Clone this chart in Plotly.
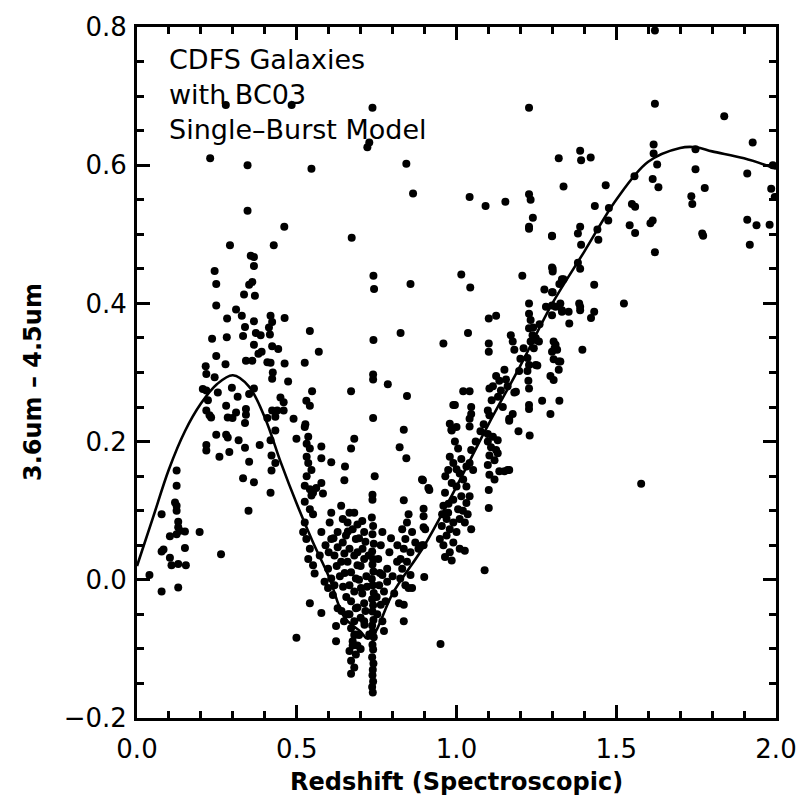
import plotly.graph_objects as go

# ---- model curve (BC03 single-burst) ----
model_z = [0.0, 0.05, 0.1, 0.15, 0.2, 0.25, 0.3, 0.35, 0.4, 0.45, 0.5, 0.55, 0.6, 0.65,
           0.7, 0.72, 0.74, 0.8, 0.9, 1.0, 1.1, 1.2, 1.3, 1.4, 1.5, 1.6, 1.7, 1.75, 1.8, 1.9, 2.0]
model_c = [0.02, 0.09, 0.16, 0.215, 0.255, 0.283, 0.296, 0.28, 0.235, 0.17, 0.11, 0.055, 0.005, -0.055,
           -0.075, -0.085, -0.08, -0.02, 0.05, 0.135, 0.225, 0.31, 0.40, 0.475, 0.55, 0.605, 0.625, 0.626, 0.62, 0.61, 0.595]

# ---- galaxies, z < 0.5 ----
z_low = [0.229, 0.346, 0.346, 0.461, 0.291, 0.428, 0.356, 0.366, 0.366, 0.243, 0.248, 0.351, 0.361, 0.335, 0.369,
         0.248, 0.310, 0.328, 0.282, 0.366, 0.418, 0.462, 0.423, 0.338, 0.413, 0.372, 0.387, 0.332, 0.281, 0.235,
         0.416, 0.366, 0.423, 0.442, 0.380, 0.390, 0.248, 0.341, 0.361, 0.408, 0.418, 0.462, 0.277, 0.215, 0.217,
         0.243, 0.425, 0.423, 0.473, 0.206, 0.217, 0.297, 0.253, 0.366, 0.351, 0.315, 0.222, 0.279, 0.449, 0.459,
         0.217, 0.227, 0.284, 0.299, 0.310, 0.341, 0.341, 0.423, 0.439, 0.459, 0.490,
         0.232, 0.338, 0.408, 0.433, 0.248, 0.279, 0.284, 0.217, 0.217, 0.318, 0.338, 0.289, 0.258, 0.384, 0.433,
         0.418, 0.421, 0.433, 0.351, 0.421, 0.332, 0.366, 0.418, 0.349, 0.124, 0.124, 0.119, 0.124, 0.124, 0.077,
         0.129, 0.129, 0.134, 0.150, 0.124, 0.196, 0.103, 0.150, 0.083, 0.077, 0.103, 0.108, 0.129, 0.153, 0.263,
         0.039, 0.077, 0.129, 0.278, 0.484, 0.499]
c_low = [0.610, 0.600, 0.534, 0.511, 0.484, 0.484, 0.469, 0.467, 0.454, 0.447, 0.428, 0.427, 0.431, 0.413, 0.411,
         0.397, 0.391, 0.382, 0.378, 0.374, 0.382, 0.379, 0.373, 0.366, 0.365, 0.357, 0.354, 0.353, 0.351, 0.349,
         0.355, 0.340, 0.338, 0.334, 0.327, 0.330, 0.324, 0.317, 0.317, 0.315, 0.314, 0.313, 0.312, 0.309, 0.298,
         0.293, 0.300, 0.291, 0.287, 0.276, 0.274, 0.278, 0.271, 0.277, 0.269, 0.265, 0.260, 0.252, 0.264, 0.257,
         0.245, 0.238, 0.235, 0.234, 0.242, 0.247, 0.239, 0.245, 0.245, 0.245, 0.233,
         0.235, 0.227, 0.234, 0.236, 0.210, 0.210, 0.206, 0.195, 0.187, 0.202, 0.191, 0.185, 0.178, 0.195, 0.216,
         0.202, 0.180, 0.169, 0.171, 0.158, 0.147, 0.141, 0.126, 0.100, 0.158, 0.136, 0.112, 0.107, 0.100, 0.095,
         0.084, 0.076, 0.071, 0.070, 0.066, 0.069, 0.063, 0.046, 0.044, 0.041, 0.032, 0.021, 0.023, 0.021, 0.037,
         0.007, -0.017, -0.011, 0.687, 0.687, 0.204]

# ---- galaxies, 0.5 <= z < 0.95 ----
z_mid = [0.546, 0.843, 0.864, 0.737, 0.727, 0.721, 0.672, 0.856, 0.740, 0.742, 0.825, 0.740, 0.541, 0.569, 0.525,
         0.548, 0.530, 0.541, 0.670, 0.739, 0.739, 0.785, 0.845, 0.527, 0.739, 0.835,
         0.525, 0.536, 0.531, 0.541, 0.531, 0.536, 0.546, 0.531, 0.525, 0.541, 0.546, 0.525, 0.541, 0.551,
         0.577, 0.577, 0.608, 0.577, 0.582, 0.561, 0.551, 0.680, 0.670, 0.651, 0.649, 0.744, 0.737, 0.737,
         0.822, 0.843, 0.895, 0.915, 0.835,
         0.525, 0.520, 0.530, 0.541, 0.536, 0.551, 0.556, 0.572, 0.577, 0.587, 0.598, 0.608, 0.618, 0.613, 0.598,
         0.628, 0.623, 0.623, 0.577, 0.541, 0.499, 0.608, 0.639, 0.603,
         0.665, 0.680, 0.659, 0.675, 0.654, 0.685, 0.665, 0.680, 0.659, 0.690, 0.670, 0.685, 0.665, 0.680, 0.670,
         0.685, 0.665, 0.680, 0.670, 0.685, 0.675, 0.665, 0.685, 0.670, 0.680, 0.670,
         0.608, 0.628, 0.644, 0.618, 0.639, 0.649, 0.711, 0.706, 0.711, 0.644, 0.628, 0.711, 0.701,
         0.705, 0.715, 0.700, 0.718, 0.705, 0.715, 0.700, 0.712, 0.695, 0.690, 0.700, 0.727, 0.711,
         0.735, 0.739, 0.737, 0.741, 0.736, 0.739, 0.737, 0.740, 0.735, 0.738, 0.741, 0.736, 0.739, 0.737, 0.740,
         0.736, 0.738, 0.741, 0.737, 0.739, 0.736, 0.740, 0.738, 0.737, 0.739, 0.736, 0.738,
         0.768, 0.763, 0.783, 0.768, 0.758, 0.783, 0.773, 0.763, 0.778, 0.768, 0.752, 0.773,
         0.814, 0.830, 0.845, 0.824, 0.840, 0.856, 0.861, 0.820, 0.835, 0.835, 0.850,
         0.830, 0.845, 0.861, 0.840, 0.871, 0.835, 0.856, 0.881, 0.897, 0.902, 0.897, 0.897, 0.899, 0.850,
         0.950, 0.897, 0.912, 0.892, 0.892,
         0.590, 0.600, 0.615, 0.625, 0.635, 0.645, 0.655, 0.650, 0.660, 0.690, 0.695, 0.690, 0.695, 0.690, 0.680,
         0.675, 0.660, 0.648, 0.640, 0.720, 0.725, 0.755, 0.760, 0.750, 0.790, 0.800, 0.805, 0.795, 0.815, 0.825]
c_mid = [0.595, 0.602, 0.559, 0.683, 0.633, 0.626, 0.495, 0.428, 0.440, 0.421, 0.357, 0.347, 0.360, 0.330, 0.314,
         0.273, 0.259, 0.252, 0.273, 0.297, 0.290, 0.283, 0.266, 0.225, 0.234, 0.217,
         0.221, 0.207, 0.197, 0.190, 0.178, 0.169, 0.159, 0.150, 0.136, 0.131, 0.122, 0.113, 0.102, 0.095,
         0.193, 0.176, 0.170, 0.140, 0.125, 0.133, 0.126, 0.204, 0.190, 0.164, 0.144, 0.150, 0.123, 0.116,
         0.192, 0.176, 0.144, 0.130, 0.115,
         0.083, 0.069, 0.059, 0.045, 0.030, 0.021, 0.009, 0.035, 0.069, -0.003, -0.012, 0.002, -0.008, -0.022, 0.016,
         -0.041, -0.067, -0.089, -0.048, -0.034, -0.084, 0.097, 0.107, 0.083,
         0.097, 0.097, 0.083, 0.073, 0.064, 0.059, 0.045, 0.035, 0.026, 0.021, 0.011, 0.002, -0.008, -0.017, -0.031,
         -0.041, -0.050, -0.060, -0.070, -0.079, -0.089, -0.103, -0.108, -0.117, -0.127, -0.136,
         0.059, 0.047, 0.054, 0.035, 0.026, 0.038, 0.069, 0.045, 0.030, 0.088, 0.069, -0.034, -0.012,
         0.085, 0.055, 0.020, 0.005, -0.020, -0.045, -0.055, -0.065, -0.080, -0.095, -0.100, -0.079, -0.060,
         0.090, 0.078, 0.066, 0.052, 0.041, 0.030, 0.022, 0.012, 0.001, -0.008, -0.019, -0.028, -0.037, -0.046, -0.058,
         -0.066, -0.075, -0.083, -0.094, -0.101, -0.112, -0.121, -0.130, -0.138, -0.147, -0.155, -0.163,
         0.069, 0.050, 0.016, 0.007, -0.008, -0.003, -0.017, -0.036, -0.031, -0.060, -0.050, -0.074,
         0.026, 0.016, 0.026, 0.002, -0.008, 0.007, -0.012, -0.034, -0.036, -0.060, -0.012,
         0.073, 0.083, 0.069, 0.059, 0.054, 0.045, 0.040, 0.045, 0.050, 0.073, 0.092, 0.103, 0.004, 0.095,
         -0.093, 0.076, 0.133, 0.145, 0.050,
         0.050, 0.040, 0.060, 0.020, 0.005, -0.010, -0.025, 0.010, 0.070, 0.080, 0.060, 0.040, 0.000, -0.040, -0.080,
         -0.095, -0.050, -0.060, -0.045, -0.010, 0.035, 0.030, 0.010, -0.025, 0.040, 0.005, -0.020, 0.060, 0.050, 0.030]

# ---- galaxies, 0.95 <= z < 1.36 ----
z_high = [0.959, 0.990, 0.979, 0.984,
          1.299, 1.301, 1.330, 1.015, 1.043, 1.206, 1.299, 1.310, 1.299, 1.330, 1.227, 1.227, 1.232, 1.227, 1.238,
          1.232, 1.248, 1.258, 1.242, 1.101, 1.124, 1.036, 1.170, 1.176, 1.181, 1.101, 1.101, 1.304, 1.307, 1.299,
          1.304, 1.325, 1.227, 1.253, 1.196, 1.222, 1.294, 1.304, 1.150, 1.124, 1.134, 1.155, 1.114, 1.103, 1.139,
          1.186, 1.225, 1.227, 1.021, 1.041, 1.268, 1.322, 1.227, 1.227, 1.294, 0.995, 1.046, 1.046, 1.041, 1.041,
          1.098, 1.103, 1.176, 1.165, 0.985, 1.000, 1.194, 1.229,
          1.098, 1.114, 1.129, 1.098, 1.108, 1.124, 1.129, 1.103, 1.119, 1.098, 1.134, 1.150, 1.165, 1.119, 1.103,
          1.101, 1.101, 1.046, 1.041, 1.031, 1.052,
          0.979, 0.990, 0.974, 1.010, 1.021, 1.000, 1.031, 1.015, 1.041, 1.031, 0.990, 1.005, 0.964, 0.959, 0.974,
          0.969, 0.990, 0.954, 0.979, 1.000, 0.969, 0.948, 0.990, 1.010, 0.979, 0.964, 0.985, 0.959, 1.010, 1.026,
          1.046, 1.026, 1.088,
          1.160, 1.181, 1.165,
          1.227, 1.041, 1.091, 1.153, 1.227, 1.232, 1.239, 1.227, 1.227, 1.299, 1.330, 1.351, 1.353, 1.310, 1.315,
          1.320, 1.248, 1.248, 1.222, 1.320,
          0.965, 0.985, 1.000, 1.015, 1.005, 0.995, 1.020, 1.035, 0.975, 0.955, 1.060, 1.075, 1.085, 1.110, 1.130,
          1.145, 1.160, 1.200, 1.210, 1.240, 1.260, 1.280, 1.275]
c_high = [0.342, 0.253, 0.226, 0.217,
          0.497, 0.450, 0.435, 0.442, 0.423, 0.440, 0.416, 0.395, 0.383, 0.388, 0.400, 0.385, 0.376, 0.364, 0.354,
          0.345, 0.350, 0.345, 0.335, 0.378, 0.382, 0.357, 0.354, 0.345, 0.333, 0.342, 0.330, 0.345, 0.335, 0.330,
          0.319, 0.316, 0.311, 0.310, 0.302, 0.302, 0.295, 0.289, 0.304, 0.295, 0.288, 0.290, 0.280, 0.277, 0.274,
          0.272, 0.288, 0.277, 0.273, 0.273, 0.259, 0.259, 0.253, 0.247, 0.240, 0.253, 0.250, 0.240, 0.233, 0.222,
          0.245, 0.238, 0.240, 0.230, 0.216, 0.221, 0.215, 0.209,
          0.211, 0.207, 0.202, 0.200, 0.192, 0.188, 0.183, 0.180, 0.173, 0.166, 0.157, 0.157, 0.159, 0.145, 0.152,
          0.130, 0.104, 0.188, 0.169, 0.164, 0.159,
          0.178, 0.169, 0.159, 0.154, 0.145, 0.135, 0.135, 0.121, 0.121, 0.111, 0.116, 0.102, 0.126, 0.107, 0.097,
          0.088, 0.083, 0.078, 0.073, 0.069, 0.064, 0.059, 0.054, 0.045, 0.040, 0.033, 0.028, 0.050, 0.088, 0.083,
          0.073, 0.042, 0.014,
          0.159, 0.271, 0.233,
          0.683, 0.554, 0.541, 0.547, 0.558, 0.550, 0.524, 0.511, 0.508, 0.397, 0.390, 0.388, 0.371, 0.340, 0.333,
          0.316, 0.347, 0.311, 0.321, 0.304,
          0.150, 0.140, 0.160, 0.175, 0.190, 0.200, 0.100, 0.095, 0.110, 0.095, 0.200, 0.215, 0.225, 0.260, 0.265,
          0.250, 0.280, 0.320, 0.335, 0.365, 0.370, 0.395, 0.420]

# ---- galaxies, z >= 1.36 ----
z_far = [1.621, 1.621, 1.838, 1.927, 1.617, 1.617, 1.320, 1.387, 1.390, 1.420, 1.628, 1.748, 1.748, 1.614, 1.632,
         1.557, 1.335, 1.467, 1.910, 1.985, 1.996, 1.777, 1.735, 1.738, 1.433, 1.549, 1.559, 1.477, 1.475, 1.614,
         1.607, 1.910, 1.939, 1.980, 1.387, 1.380, 1.299, 1.441, 1.444, 1.542, 1.559, 1.769, 1.772, 1.390, 1.918,
         1.621, 1.299, 1.301, 1.380, 1.387, 1.335, 1.322, 1.431, 1.301, 1.325, 1.384, 1.524, 1.387, 1.387, 1.431,
         1.421, 1.394, 1.578, 1.990]
c_far = [0.795, 0.689, 0.671, 0.633, 0.630, 0.617, 0.610, 0.621, 0.607, 0.611, 0.601, 0.623, 0.594, 0.580, 0.568,
         0.584, 0.569, 0.571, 0.588, 0.566, 0.554, 0.567, 0.555, 0.544, 0.541, 0.544, 0.540, 0.538, 0.520, 0.520,
         0.516, 0.521, 0.513, 0.514, 0.511, 0.501, 0.498, 0.507, 0.492, 0.513, 0.502, 0.501, 0.498, 0.485, 0.485,
         0.474, 0.452, 0.446, 0.459, 0.450, 0.435, 0.428, 0.427, 0.416, 0.400, 0.400, 0.400, 0.395, 0.390, 0.388,
         0.379, 0.333, 0.139, 0.600]

x_ticks = [0.0, 0.5, 1.0, 1.5, 2.0]
x_ticktext = ["0.0", "0.5", "1.0", "1.5", "2.0"]
y_ticks = [-0.2, 0.0, 0.2, 0.4, 0.6, 0.8]
y_ticktext = ["\u22120.2", "0.0", "0.2", "0.4", "0.6", "0.8"]

gal_z = z_low + z_mid + z_high + z_far
gal_c = c_low + c_mid + c_high + c_far

FONT = "DejaVu Sans"

fig = go.Figure()
fig.add_trace(go.Scatter(x=gal_z, y=gal_c, mode="markers",
                         marker=dict(color="black", size=8, line=dict(width=0)),
                         showlegend=False, cliponaxis=True))
fig.add_trace(go.Scatter(x=model_z, y=model_c, mode="lines", line=dict(color="black", width=2.6, shape="spline"),
                         showlegend=False))

axis_common = dict(showgrid=False, zeroline=False, showline=True, linecolor="black", linewidth=3,
                   mirror="ticks", ticks="inside", tickcolor="black", tickwidth=3,
                   tickfont=dict(family=FONT, size=26, color="black"))

fig.update_xaxes(range=[0, 2.0], tickvals=x_ticks, ticktext=x_ticktext, ticklen=13,
                 minor=dict(dtick=0.1, ticklen=7, tickwidth=3, tickcolor="black", ticks="inside"),
                 ticklabelstandoff=6, **axis_common)
fig.update_yaxes(range=[-0.2, 0.8], tickvals=y_ticks, ticktext=y_ticktext, ticklen=13,
                 minor=dict(dtick=0.05, ticklen=7, tickwidth=3, tickcolor="black", ticks="inside"),
                 ticklabelstandoff=2, **axis_common)

annots = [
    dict(text="<b>Redshift (Spectroscopic)</b>", x=0.5, y=-0.093, xref="paper", yref="paper",
         xanchor="center", yanchor="middle", showarrow=False,
         font=dict(family=FONT, size=24, color="black")),
    dict(text="<b>3.6um \u2013 4.5um</b>", x=-0.163, y=0.486, xref="paper", yref="paper",
         xanchor="center", yanchor="middle", showarrow=False, textangle=-90,
         font=dict(family=FONT, size=24, color="black")),
    dict(text="CDFS Galaxies<br>with BC03<br>Single\u2013Burst Model",
         x=(167 - 137) / 646, y=(718 - 33) / 700, xref="paper", yref="paper",
         xanchor="left", yanchor="top", align="left", showarrow=False,
         font=dict(family=FONT, size=27, color="black")),
]

fig.update_layout(width=809, height=806, margin=dict(l=137, r=26, t=18, b=88),
                  paper_bgcolor="white", plot_bgcolor="white", annotations=annots)

fig.write_html("out.html")
